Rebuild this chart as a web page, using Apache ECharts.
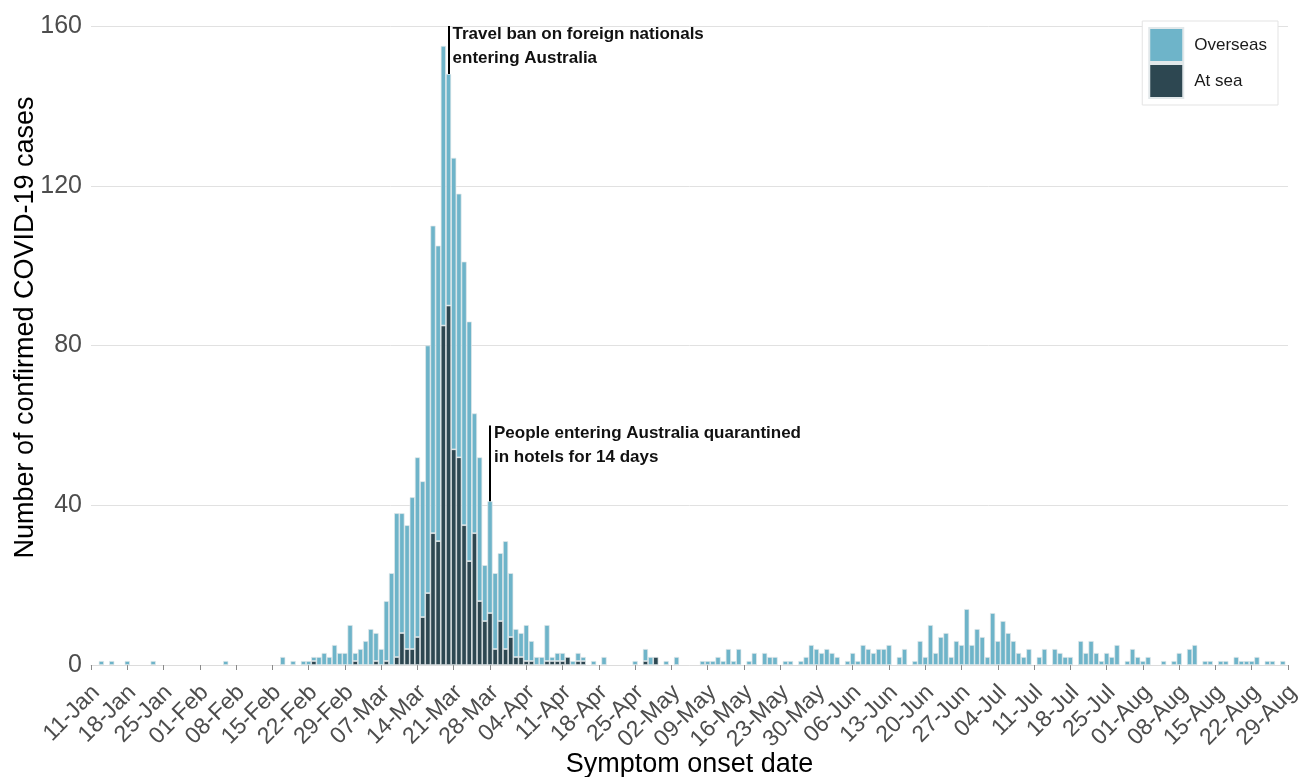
<!DOCTYPE html>
<html>
<head>
<meta charset="utf-8">
<script src="https://cdn.jsdelivr.net/npm/echarts@6/dist/echarts.min.js"></script>
<style>
  html, body { margin: 0; padding: 0; background: #ffffff; }
  #chart { width: 1303px; height: 777px; }
</style>
</head>
<body>
<div id="chart"></div>
<script>
// Daily COVID-19 cases by symptom onset date, 11 Jan - 29 Aug 2020,
// split by where the infection was acquired (overseas / at sea).

const FIRST_DAY = Date.UTC(2020, 0, 11);
const DAY_COUNT = 232;
const MONTH_NAMES = ['Jan', 'Feb', 'Mar', 'Apr', 'May', 'Jun', 'Jul', 'Aug', 'Sep', 'Oct', 'Nov', 'Dec'];

// Weekly tick labels on the date axis
const tickLabels = ['11-Jan', '18-Jan', '25-Jan', '01-Feb', '08-Feb', '15-Feb', '22-Feb', '29-Feb',
  '07-Mar', '14-Mar', '21-Mar', '28-Mar', '04-Apr', '11-Apr', '18-Apr', '25-Apr', '02-May',
  '09-May', '16-May', '23-May', '30-May', '06-Jun', '13-Jun', '20-Jun', '27-Jun', '04-Jul',
  '11-Jul', '18-Jul', '25-Jul', '01-Aug', '08-Aug', '15-Aug', '22-Aug', '29-Aug'];

// Overseas-acquired cases per day (Jan starts on the 11th)
const overseasJan = [0,0,1,0,1,0,0,1,0,0, 0,0,1,0,0,0,0,0,0,0, 0];
const overseasFeb = [0,0,0,0,0,1,0,0,0,0, 0,0,0,0,0,0,2,0,1,0, 1,1,1,2,3,2,5,3,3];
const overseasMar = [10,2,4,6,9,7,4,15,23,36, 30,31,38,45,34,62,77,74,70,58, 73,66,66,60,30,36,14,28,19,17, 27];
const overseasApr = [16,7,6,9,5,2,2,9,1,2, 2,0,1,2,1,0,1,0,2,0, 0,0,0,0,1,0,3,2,0,0];
const overseasMay = [1,0,2,0,0,0,0,1,1,1, 2,1,4,1,4,0,1,3,0,3, 2,2,0,1,1,0,1,2,5,4, 3];
const overseasJun = [4,3,2,0,1,3,1,5,4,3, 4,4,5,0,2,4,0,1,6,2, 10,3,7,8,2,6,5,14,5,9];
const overseasJul = [7,2,13,6,11,8,6,3,2,4, 0,2,4,0,4,3,2,2,0,6, 3,6,3,1,3,2,5,0,1,4, 2];
const overseasAug = [1,2,0,0,1,0,1,3,0,4, 5,0,1,1,0,1,1,0,2,1, 1,1,2,0,1,1,0,1,0];

// Cases acquired at sea per day
const atSeaJan = [0,0,0,0,0,0,0,0,0,0, 0,0,0,0,0,0,0,0,0,0, 0];
const atSeaFeb = [0,0,0,0,0,0,0,0,0,0, 0,0,0,0,0,0,0,0,0,0, 0,0,1,0,0,0,0,0,0];
const atSeaMar = [0,1,0,0,0,1,0,1,0,2, 8,4,4,7,12,18,33,31,85,90, 54,52,35,26,33,16,11,13,4,11, 4];
const atSeaApr = [7,2,2,1,1,0,0,1,1,1, 1,2,0,1,1,0,0,0,0,0, 0,0,0,0,0,0,1,0,2,0];
const atSeaMay = [0,0,0,0,0,0,0,0,0,0, 0,0,0,0,0,0,0,0,0,0, 0,0,0,0,0,0,0,0,0,0, 0];
const atSeaJun = [0,0,0,0,0,0,0,0,0,0, 0,0,0,0,0,0,0,0,0,0, 0,0,0,0,0,0,0,0,0,0];
const atSeaJul = [0,0,0,0,0,0,0,0,0,0, 0,0,0,0,0,0,0,0,0,0, 0,0,0,0,0,0,0,0,0,0, 0];
const atSeaAug = [0,0,0,0,0,0,0,0,0,0, 0,0,0,0,0,0,0,0,0,0, 0,0,0,0,0,0,0,0,0];

// Policy annotations: day, height the leader line reaches, text lines
const annotationDays = ['20-Mar', '28-Mar'];
const annotationTops = [160, 60];
const annotationTexts = [
  ['Travel ban on foreign nationals', 'entering Australia'],
  ['People entering Australia quarantined', 'in hotels for 14 days']
];

const LIGHT = '#6eb4c9';
const DARK = '#2d4751';
const FONT = '"Liberation Sans", Arial, Helvetica, sans-serif';

const categories = [];
for (let i = 0; i < DAY_COUNT; i++) {
  const d = new Date(FIRST_DAY + i * 86400000);
  categories.push(String(d.getUTCDate()).padStart(2, '0') + '-' + MONTH_NAMES[d.getUTCMonth()]);
}

const overseas = [].concat(overseasJan, overseasFeb, overseasMar, overseasApr,
  overseasMay, overseasJun, overseasJul, overseasAug);
const atSea = [].concat(atSeaJan, atSeaFeb, atSeaMar, atSeaApr,
  atSeaMay, atSeaJun, atSeaJul, atSeaAug);

// Empty days are left blank so that no outline is drawn on the baseline
const blankZero = v => (v === 0 ? '-' : v);

const isTickDay = (idx, value) => tickLabels.indexOf(value === undefined ? categories[idx] : value) !== -1;

const annotationLines = annotationDays.map((day, k) => {
  const idx = categories.indexOf(day);
  const total = overseas[idx] + atSea[idx];
  return [{ coord: [day, total] }, { coord: [day, annotationTops[k]] }];
});

const annotationLabels = annotationDays.map((day, k) => ({
  coord: [day, annotationTops[k]],
  label: { formatter: annotationTexts[k].join('\n') }
}));

const barBorder = { borderColor: '#e2e8ea', borderWidth: 0.7 };

const chart = echarts.init(document.getElementById('chart'), null, { renderer: 'canvas' });

chart.setOption({
  animation: false,
  textStyle: { fontFamily: FONT },
  grid: { left: 91, right: 15, top: 26, bottom: 112, outerBoundsMode: 'none' },
  legend: {
    data: ['Overseas', 'At sea'],
    orient: 'vertical',
    right: 25,
    top: 21,
    itemWidth: 34,
    itemHeight: 34,
    itemGap: 0,
    padding: [6, 11, 6, 6],
    borderColor: '#e3e3e3',
    borderWidth: 1,
    backgroundColor: '#ffffff',
    icon: 'rect',
    textStyle: { fontSize: 17, color: '#1a1a1a', fontFamily: FONT, padding: [0, 0, 0, 6] }
  },
  xAxis: {
    type: 'category',
    data: categories,
    boundaryGap: false,
    name: 'Symptom onset date',
    nameLocation: 'middle',
    nameGap: 86,
    nameMoveOverlap: false,
    nameTextStyle: { fontSize: 27, color: '#000000', fontFamily: FONT },
    axisLine: { show: true, lineStyle: { color: '#dcdcdc', width: 1 } },
    axisTick: { show: true, interval: isTickDay, length: 5, lineStyle: { color: '#8a8a8a', width: 1 } },
    axisLabel: {
      interval: isTickDay,
      rotate: 45,
      fontSize: 23,
      lineHeight: 14,
      color: '#4d4d4d',
      margin: 19,
      verticalAlign: 'top',
      fontFamily: FONT
    },
    splitLine: { show: false }
  },
  yAxis: {
    type: 'value',
    min: 0,
    max: 160,
    interval: 40,
    name: 'Number of confirmed COVID-19 cases',
    nameLocation: 'middle',
    nameGap: 52,
    nameMoveOverlap: false,
    nameTextStyle: { fontSize: 27, color: '#000000', fontFamily: FONT, padding: [0, 0, 0, 36] },
    axisLine: { show: false },
    axisTick: { show: false },
    axisLabel: { fontSize: 25, color: '#4d4d4d', margin: 9, fontFamily: FONT },
    splitLine: { lineStyle: { color: '#e1e1e1', width: 1 } }
  },
  series: [
    {
      name: 'At sea',
      type: 'bar',
      stack: 'cases',
      barCategoryGap: '0%',
      data: atSea.map(blankZero),
      itemStyle: Object.assign({ color: DARK }, barBorder),
      emphasis: { disabled: true }
    },
    {
      name: 'Overseas',
      type: 'bar',
      stack: 'cases',
      barCategoryGap: '0%',
      data: overseas.map(blankZero),
      itemStyle: Object.assign({ color: LIGHT }, barBorder),
      emphasis: { disabled: true },
      markLine: {
        silent: true,
        symbol: ['none', 'none'],
        label: { show: false },
        lineStyle: { color: '#000000', width: 2, type: 'solid' },
        emphasis: { disabled: true },
        data: annotationLines
      },
      markPoint: {
        silent: true,
        symbol: 'circle',
        symbolSize: 0,
        itemStyle: { color: 'rgba(0,0,0,0)' },
        label: {
          show: true,
          position: [4, -4],
          align: 'left',
          verticalAlign: 'top',
          fontSize: 17,
          fontWeight: 'bold',
          lineHeight: 24,
          color: '#111111',
          fontFamily: FONT
        },
        data: annotationLabels
      }
    }
  ]
});
</script>
</body>
</html>
